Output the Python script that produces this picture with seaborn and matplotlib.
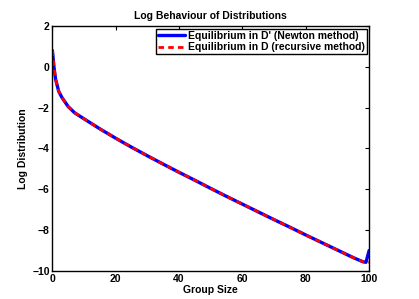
import numpy as np
import pandas as pd
import seaborn as sns
from matplotlib import pyplot as plt

# group sizes and log distribution values
group_size = [0, 0.5, 1, 2, 3, 5, 7, 10, 15, 20, 25, 30, 35, 40, 45, 50,
              55, 60, 65, 70, 75, 80, 85, 90, 95, 98, 99, 100]
log_newton = [0.8, 0.0, -0.6, -1.2, -1.5, -1.95, -2.25, -2.55, -3.04, -3.5, -3.94, -4.36,
              -4.77, -5.17, -5.56, -5.96, -6.35, -6.73, -7.11, -7.49, -7.86, -8.24, -8.61,
              -8.98, -9.35, -9.55, -9.58, -9.0]
log_recursive = [0.8, 0.0, -0.6, -1.2, -1.5, -1.95, -2.25, -2.55, -3.04, -3.5, -3.94, -4.36,
                 -4.77, -5.17, -5.56, -5.96, -6.35, -6.73, -7.11, -7.49, -7.86, -8.24, -8.61,
                 -8.98, -9.35, -9.55, -9.58, -9.58]

df = pd.DataFrame({'Group Size': group_size,
                   'newton': log_newton,
                   'recursive': log_recursive})

sns.set_style('white')
plt.rcParams['font.family'] = ['Liberation Sans', 'DejaVu Sans']
plt.rcParams['font.weight'] = 'bold'
plt.rcParams['axes.labelweight'] = 'bold'
plt.rcParams['text.color'] = 'black'
plt.rcParams['axes.labelcolor'] = 'black'

fig = plt.figure(figsize=(4.19, 2.99), dpi=100)
ax = fig.add_axes([0.125, 0.094, 0.756, 0.819])

sns.lineplot(data=df, x='Group Size', y='newton', ax=ax, color='#0000ff', linewidth=2.4,
             label="Equilibrium in D' (Newton method)")
sns.lineplot(data=df, x='Group Size', y='recursive', ax=ax, color='#ff0000', linewidth=2.0,
             linestyle=(0, (2, 1.5)), label='Equilibrium in D (recursive method)')

ax.set_xlim(0, 100)
ax.set_ylim(-10, 2)
ax.set_xticks([0, 20, 40, 60, 80, 100])
ax.set_yticks([-10, -8, -6, -4, -2, 0, 2])
ax.tick_params(direction='in', length=3, width=0.8, top=True, right=True,
               labelsize=7.5, pad=2, colors='black')
for s in ax.spines.values():
    s.set_color('black')
    s.set_linewidth(1.0)

ax.set_xlabel('Group Size', fontsize=7.5, fontweight='bold', labelpad=1, color='black')
ax.set_ylabel('Log Distribution', fontsize=7.5, fontweight='bold', labelpad=3, color='black')
ax.set_title('Log Behaviour of Distributions', fontsize=7.5, fontweight='bold', pad=5, color='black')

leg = ax.legend(loc='upper right', frameon=True, fancybox=False,
                handlelength=2.6, borderpad=0.2, labelspacing=0.15, handletextpad=0.2,
                borderaxespad=0.25, prop={'weight': 'bold', 'size': 7.5})
leg.get_frame().set_edgecolor('black')
leg.get_frame().set_linewidth(1.0)
leg.get_frame().set_alpha(1)

plt.savefig('out.png', dpi=100)
